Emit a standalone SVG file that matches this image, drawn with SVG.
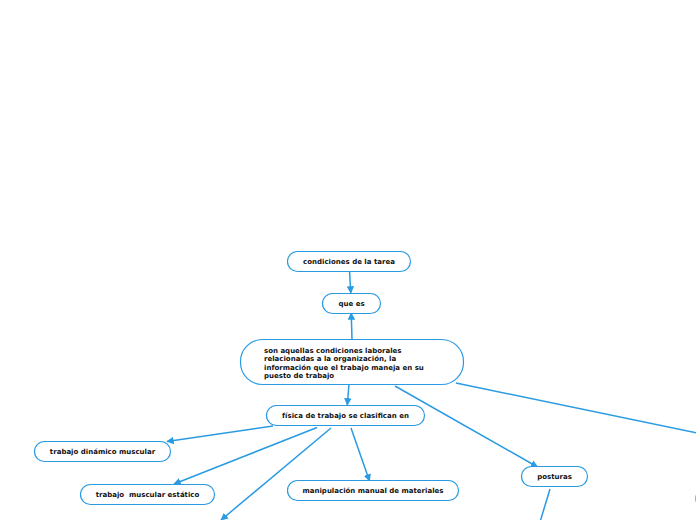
<svg xmlns="http://www.w3.org/2000/svg" width="696" height="520" viewBox="0 0 696 520">
<style>
.n rect{fill:#fff;stroke:#2a9be2;stroke-width:1.2}
.n text{font-family:"DejaVu Sans",Verdana,sans-serif;font-weight:bold;font-size:7px;fill:#111;white-space:pre}
.c line{stroke:#2a9be2;stroke-width:1.5;fill:none}
.c line.a{marker-end:url(#ah)}
</style>
<defs>
<marker id="ah" viewBox="0 0 10 10" refX="9" refY="5" markerWidth="5" markerHeight="5" orient="auto" markerUnits="strokeWidth">
<path d="M0,0 L10,5 L0,10 z" fill="#2a9be2"/>
</marker>
</defs>
<rect width="696" height="520" fill="#fff"/>
<g id="connectors" class="c">
<line class="a" x1="349.5" y1="271" x2="350.8" y2="293"/>
<line class="a" x1="352" y1="339" x2="351.2" y2="313"/>
<line class="a" x1="349" y1="384" x2="347.3" y2="405"/>
<line class="a" x1="273" y1="426" x2="167" y2="441.5"/>
<line class="a" x1="317" y1="427.5" x2="174" y2="484"/>
<line class="a" x1="331" y1="428" x2="221" y2="520"/>
<line class="a" x1="351" y1="428" x2="369.5" y2="481"/>
<line class="a" x1="395" y1="386" x2="537.5" y2="467"/>
<line x1="456" y1="383" x2="697" y2="433"/>
<line x1="550" y1="489" x2="540" y2="522"/>
</g>
<g id="n-tarea" class="n"><rect x="287.5" y="251.5" width="123" height="20" rx="10"/><text x="349" y="264" text-anchor="middle">condiciones de la tarea</text></g>
<g id="n-quees" class="n"><rect x="322.5" y="293.5" width="58" height="20" rx="10"/><text x="351.5" y="306" text-anchor="middle">que es</text></g>
<g id="n-def" class="n"><rect x="240.5" y="339.5" width="223" height="45" rx="22"/><text x="264" y="352.5">son aquellas condiciones laborales</text><text x="264" y="361">relacionadas a la organización, la</text><text x="264" y="369.5">información que el trabajo maneja en su</text><text x="264" y="378">puesto de trabajo</text></g>
<g id="n-fisica" class="n"><rect x="266.5" y="405.5" width="158" height="20" rx="10"/><text x="345.5" y="418" text-anchor="middle">física de trabajo se clasifican en</text></g>
<g id="n-dinamico" class="n"><rect x="34.5" y="441.5" width="136" height="20" rx="10"/><text x="102.5" y="454" text-anchor="middle">trabajo dinámico muscular</text></g>
<g id="n-estatico" class="n"><rect x="80.5" y="484.5" width="134" height="20" rx="10"/><text x="147.5" y="497" text-anchor="middle" xml:space="preserve">trabajo  muscular estático</text></g>
<g id="n-manipulacion" class="n"><rect x="287.5" y="480.5" width="171" height="20" rx="10"/><text x="373" y="493" text-anchor="middle">manipulación manual de materiales</text></g>
<g id="n-posturas" class="n"><rect x="521.5" y="466.5" width="66" height="20" rx="10"/><text x="554.5" y="479" text-anchor="middle">posturas</text></g>
<g id="n-right" class="n"><rect x="695.9" y="488.5" width="60" height="20" rx="10"/></g>
</svg>
